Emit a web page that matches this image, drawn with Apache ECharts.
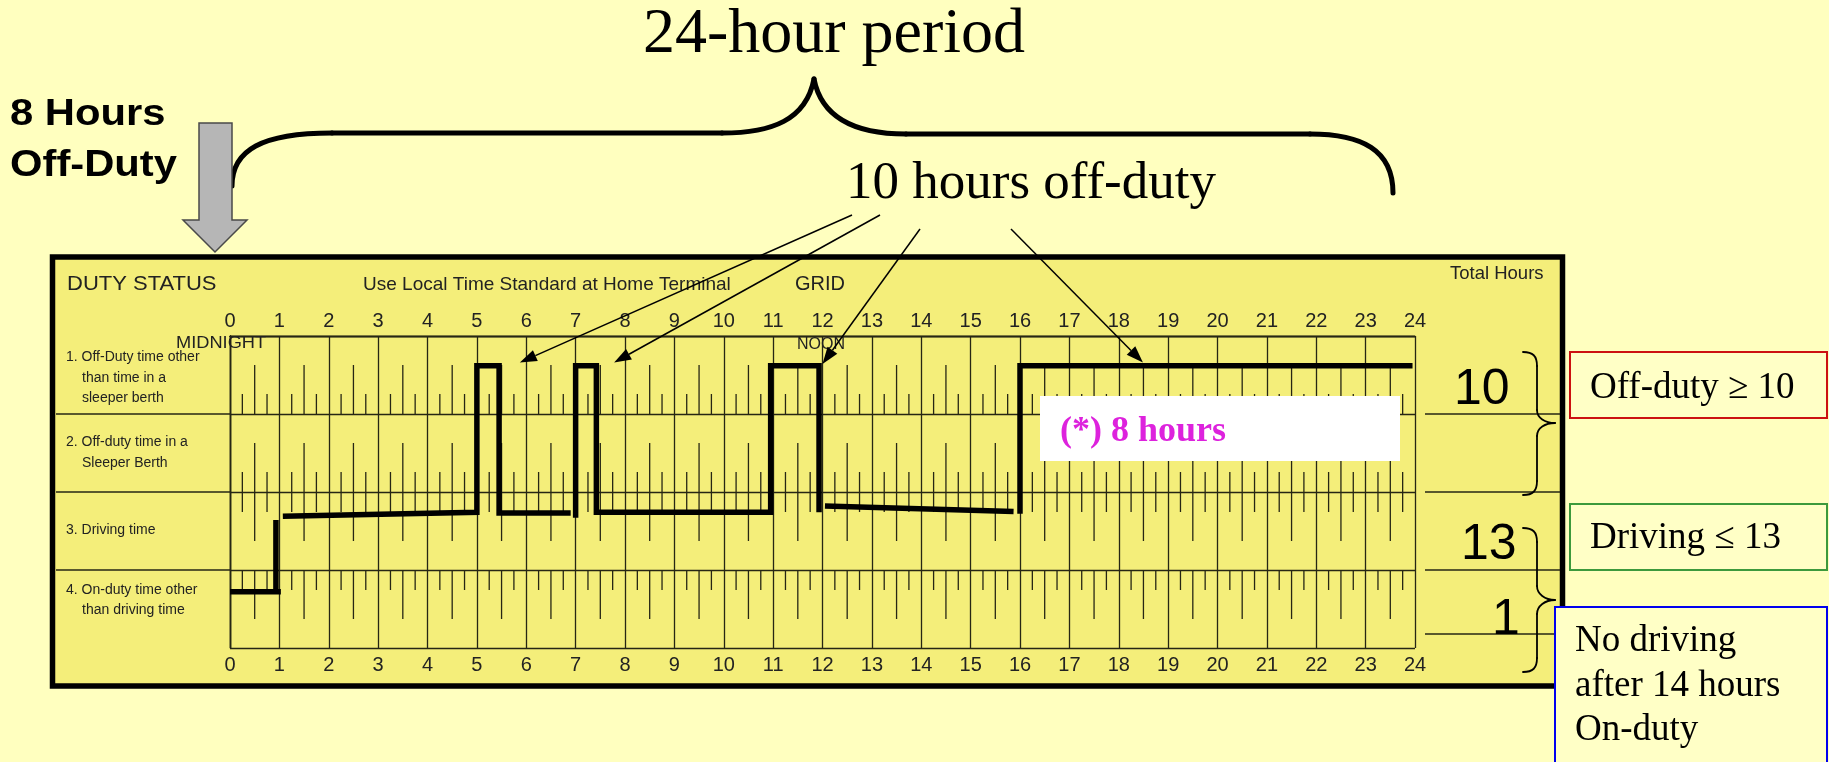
<!DOCTYPE html>
<html><head><meta charset="utf-8">
<script src="https://cdn.jsdelivr.net/npm/echarts/dist/echarts.min.js"></script>
<style>html,body{margin:0;padding:0;background:#ffffbf;}#c{width:1829px;height:762px;}</style>
</head><body><div id="c"></div>
<script>
// ---- data ----
const hourLabels = ['0','1','2','3','4','5','6','7','8','9','10','11','12','13','14','15','16','17','18','19','20','21','22','23','24'];
const statusLabels = [
  ['1. Off-Duty time other', 'than time in a', 'sleeper berth'],
  ['2. Off-duty time in a', 'Sleeper Berth'],
  ['3. Driving time'],
  ['4. On-duty time other', 'than driving time']
];
// duty line drawn on the grid: [hour, row position (0 = top of row 1, 4 = bottom of row 4)]
const dutySegments = [
  [[0, 3.28], [1.03, 3.28]],
  [[0.93, 3.28], [0.93, 2.36]],
  [[1.07, 2.31], [5.0, 2.26], [5.0, 0.38], [5.45, 0.38], [5.45, 2.27], [6.9, 2.27]],
  [[7.0, 2.33], [7.0, 0.38], [7.42, 0.38], [7.42, 2.26], [10.95, 2.26], [10.95, 0.38], [11.93, 0.38], [11.93, 2.26]],
  [[12.05, 2.18], [15.87, 2.25]],
  [[16.0, 2.28], [16.0, 0.38], [23.95, 0.38]]
];
const pointerTips = [[5.87, 0.34], [7.78, 0.34], [12.0, 0.36], [18.49, 0.34]];
const totalHours = ['10', '13', '1'];
const ruleNotes = ['Off-duty \u2265 10', 'Driving \u2264 13', ['No driving', 'after 14 hours', 'On-duty']];
const quarterMarks = [0.25, 0.5, 0.75];
const rightColumnLines = [1, 2, 3, 3.82];
const leftRowLines = [1, 2, 3];

// ---- chart ----
const INK = '#262614';
const chart = echarts.init(document.getElementById('c'), null, {width: 1829, height: 762});

const tickData = [];
for (let r = 0; r < 4; r++) for (let h = 0; h < 24; h++) quarterMarks.forEach(q => tickData.push([h + q, r]));

const sans = 'Liberation Sans, Arial, sans-serif';
const serif = 'Liberation Serif, Times New Roman, serif';

function txt(text, x, y, size, opts) {
  opts = opts || {};
  return {
    type: 'text', x: x, y: y, z: opts.z || 20,
    scaleX: opts.scaleX || 1,
    style: {
      text: text, x: 0, y: 0,
      fontSize: size, fontFamily: opts.family || sans, fontWeight: opts.weight || 'normal',
      fill: opts.color || '#111',
      align: opts.align || 'left', textAlign: opts.align || 'left',
      verticalAlign: 'middle', textVerticalAlign: 'middle'
    }
  };
}

// simple path (M, L, C commands) -> graphic line / bezierCurve elements
function pathEls(d, width, z) {
  const tok = d.match(/[MLC]|-?[\d.]+/g);
  const out = [];
  let i = 0, cx = 0, cy = 0, cmd = 'M';
  const st = {stroke: '#000', lineWidth: width, fill: null, lineCap: 'round'};
  while (i < tok.length) {
    if (/[MLC]/.test(tok[i])) { cmd = tok[i]; i++; }
    if (cmd === 'M') { cx = +tok[i]; cy = +tok[i + 1]; i += 2; }
    else if (cmd === 'L') {
      const x = +tok[i], y = +tok[i + 1]; i += 2;
      out.push({type: 'line', z: z, shape: {x1: cx, y1: cy, x2: x, y2: y}, style: Object.assign({}, st)});
      cx = x; cy = y;
    } else if (cmd === 'C') {
      const a = tok.slice(i, i + 6).map(Number); i += 6;
      out.push({type: 'bezierCurve', z: z, shape: {x1: cx, y1: cy, cpx1: a[0], cpy1: a[1], cpx2: a[2], cpy2: a[3], x2: a[4], y2: a[5]},
                style: Object.assign({}, st)});
      cx = a[4]; cy = a[5];
    }
  }
  return out;
}

const axisLineStyle = {color: INK, width: 1.4};
const option = {
  backgroundColor: '#ffffbf',
  animation: false,
  grid: {left: 230, top: 336, width: 1185, height: 312, show: false},
  xAxis: [
    {type: 'value', min: 0, max: 24, interval: 1, position: 'top',
     axisLine: {show: true, lineStyle: axisLineStyle}, axisTick: {show: false},
     splitLine: {show: true, lineStyle: {color: INK, width: 1.3}},
     axisLabel: {margin: 15, verticalAlign: 'middle', fontSize: 20, fontFamily: sans, color: '#222',
       showMinLabel: true, showMaxLabel: true, formatter: v => hourLabels[Math.round(v)]}},
    {type: 'value', min: 0, max: 24, interval: 1, position: 'bottom',
     axisLine: {show: true, lineStyle: axisLineStyle}, axisTick: {show: false},
     splitLine: {show: false},
     axisLabel: {margin: 17, verticalAlign: 'middle', fontSize: 20, fontFamily: sans, color: '#222',
       showMinLabel: true, showMaxLabel: true, formatter: v => hourLabels[Math.round(v)]}}
  ],
  yAxis: [
    {type: 'value', min: 0, max: 4, interval: 1, inverse: true, position: 'left',
     axisLine: {show: true, lineStyle: axisLineStyle}, axisTick: {show: false}, axisLabel: {show: false},
     splitLine: {show: true, lineStyle: {color: INK, width: 1.4}}},
    {type: 'value', min: 0, max: 4, interval: 1, inverse: true, position: 'right',
     axisLine: {show: true, lineStyle: axisLineStyle}, axisTick: {show: false}, axisLabel: {show: false},
     splitLine: {show: false}}
  ],
  series: [
    {type: 'custom', name: 'ticks', xAxisIndex: 0, yAxisIndex: 0, z: 3, silent: true, clip: false,
     data: tickData,
     renderItem: function (params, api) {
       const x = api.value(0), r = api.value(1);
       const len = Math.abs((x % 1) - 0.5) < 1e-6 ? 49 : 20;
       const up = r < 2;
       const p = api.coord([x, up ? r + 1 : r]);
       return {type: 'line', shape: {x1: p[0], y1: p[1], x2: p[0], y2: up ? p[1] - len : p[1] + len},
               style: {stroke: INK, lineWidth: 1.3}};
     }},
    {type: 'custom', name: 'rowlines', xAxisIndex: 0, yAxisIndex: 0, z: 3, silent: true, clip: false,
     data: leftRowLines.map(v => [0, v, 0]).concat(rightColumnLines.map(v => [24, v, 1])),
     renderItem: function (params, api) {
       const p = api.coord([api.value(0), api.value(1)]);
       const right = api.value(2) === 1;
       const x1 = right ? p[0] + 10 : 56, x2 = right ? 1560 : p[0];
       return {type: 'line', shape: {x1: x1, y1: p[1], x2: x2, y2: p[1]},
               style: {stroke: INK, lineWidth: 1.4}};
     }}
  ].concat(dutySegments.map(seg => ({
    type: 'line', xAxisIndex: 0, yAxisIndex: 0, data: seg, z: 6, silent: true,
    symbol: 'none', showSymbol: false,
    lineStyle: {color: '#000', width: 5.5, cap: 'butt', join: 'miter'}
  })))
};
chart.setOption(option);

// ---- annotations ----
let g = [];
g.push({type: 'rect', z: -10, shape: {x: 52.5, y: 257, width: 1510, height: 429},
        style: {fill: '#f4ee7a', stroke: '#000', lineWidth: 5.5}});
// title and brace
g.push(txt('24-hour period', 834, 35.5, 64, {family: serif, align: 'center', color: '#000'}));
g = g.concat(pathEls('M232 186 C232 150 262 133 332 133 L722 133 C772 133 806 120 814 79 C822 120 858 134 906 134 L1310 134 C1362 134 1393 150 1393 193', 5, 20));
g.push(txt('8 Hours', 10, 115.5, 36, {weight: 'bold', scaleX: 1.16, color: '#000'}));
g.push(txt('Off-Duty', 10, 166.5, 36, {weight: 'bold', scaleX: 1.16, color: '#000'}));
g.push({type: 'polygon', z: 20, shape: {points: [[199, 123], [232, 123], [232, 220], [247, 220], [215, 252], [183, 220], [199, 220]]},
        style: {fill: '#b6b6b6', stroke: '#4a4a4a', lineWidth: 1.5}});
g.push(txt('10 hours off-duty', 846, 184.4, 53, {family: serif, color: '#000'}));

// header texts in the log
g.push(txt('DUTY STATUS', 67, 284, 20, {color: '#222', scaleX: 1.1}));
g.push(txt('Use Local Time Standard at Home Terminal', 363, 285, 19, {color: '#222'}));
g.push(txt('GRID', 795, 284, 20, {color: '#222'}));
g.push(txt('Total Hours', 1450, 274, 18.5, {color: '#222'}));
g.push(txt('MIDNIGHT', 176, 344, 16, {color: '#222', scaleX: 1.14}));
g.push(txt('NOON', 821, 345, 16, {color: '#222', align: 'center'}));

const labelY = [[357, 378, 398], [442, 463], [530], [590, 610]];
statusLabels.forEach((lines, r) => lines.forEach((t, i) => {
  g.push(txt(t, i === 0 ? 66 : 82, labelY[r][i], 14, {color: '#222'}));
}));

// total hours column
const totX = [1454, 1461, 1492], totY = [390.7, 545.7, 620.7];
totalHours.forEach((t, i) => g.push(txt(t, totX[i], totY[i], 50, {color: '#000'})));
g = g.concat(pathEls('M1523 352 C1533 352 1537 356 1537 366 L1537 410 C1537 418 1545 423 1555 423 C1545 423 1537 428 1537 436 L1537 481 C1537 491 1533 495 1523 495', 1.8, 20));
g = g.concat(pathEls('M1523 528 C1533 528 1537 532 1537 542 L1537 586 C1537 594 1545 600 1555 600 C1545 600 1537 606 1537 614 L1537 658 C1537 668 1533 672 1523 672', 1.8, 20));

// (*) 8 hours
g.push({type: 'rect', z: 15, shape: {x: 1040, y: 396, width: 360, height: 65}, style: {fill: '#fff'}});
g.push(txt('(*) 8 hours', 1060, 431.5, 36, {family: serif, weight: 'bold', color: '#dd22dd', z: 16}));

// rule boxes
g.push({type: 'rect', z: 20, shape: {x: 1570, y: 352, width: 257, height: 66}, style: {fill: '#ffffc6', stroke: '#cc1111', lineWidth: 2}});
g.push(txt(ruleNotes[0], 1590, 388, 37, {family: serif, color: '#000', z: 21}));
g.push({type: 'rect', z: 20, shape: {x: 1570, y: 504, width: 257, height: 66}, style: {fill: '#ffffc6', stroke: '#3c9a3c', lineWidth: 2}});
g.push(txt(ruleNotes[1], 1590, 538, 37, {family: serif, color: '#000', z: 21}));
g.push({type: 'rect', z: 20, shape: {x: 1555, y: 607, width: 272, height: 200}, style: {fill: '#ffffc6', stroke: '#0000ee', lineWidth: 2}});
ruleNotes[2].forEach((t, i) => g.push(txt(t, 1575, [641, 686, 730][i], 37, {family: serif, color: '#000', z: 21})));

// pointer arrows from "10 hours off-duty"
const starts = [[852, 215], [880, 215], [920, 229], [1011, 229]];
pointerTips.forEach((tp, i) => {
  const e = chart.convertToPixel({gridIndex: 0}, tp);
  const s = starts[i];
  const a = Math.atan2(e[1] - s[1], e[0] - s[0]);
  const L = 17, W = 6;
  const bx = e[0] - L * Math.cos(a), by = e[1] - L * Math.sin(a);
  g.push({type: 'line', z: 25, shape: {x1: s[0], y1: s[1], x2: bx, y2: by}, style: {stroke: '#000', lineWidth: 1.5}});
  g.push({type: 'polygon', z: 25, shape: {points: [[e[0], e[1]],
    [bx + W * Math.sin(a), by - W * Math.cos(a)], [bx - W * Math.sin(a), by + W * Math.cos(a)]]},
    style: {fill: '#000'}});
});

chart.setOption({graphic: {elements: g}});
</script>
</body></html>
